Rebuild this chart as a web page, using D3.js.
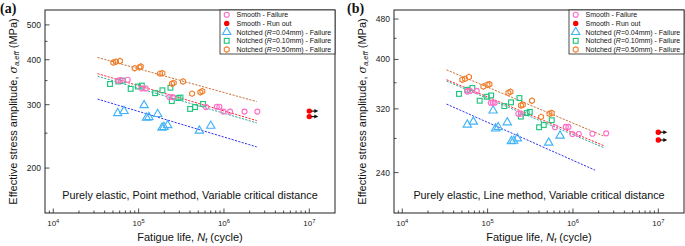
<!DOCTYPE html>
<html>
<head>
<meta charset="utf-8">
<script src="https://cdn.jsdelivr.net/npm/d3@7"></script>
<style>
  body { margin: 0; background: #fff; }
  svg { display: block; font-family: "Liberation Sans", Arial, sans-serif; }
</style>
</head>
<body>
<svg id="chart" width="685" height="246"></svg>
<script>
// Tick values
const xTicks = [1e4, 1e5, 1e6, 1e7];
const yTicksA = [200, 300, 400, 500];
const yMinorA = [250, 350, 450];
const yTicksB = [240, 320, 400, 480];
const yMinorB = [280, 360, 440];

// Panel (a): point method, [cycles, MPa]
const smoothA = [[57800,350],[61600,351],[74500,352],[109000,333],[121000,333],[229000,315],[251000,315],
  [617000,295.5],[824000,296],[884000,296],[985000,287],[1180000,287],[1740000,287],[2460000,287]];
const runoutA = [[1e7,288],[1e7,278]];
const notch004A = [[56900,284],[67400,288],[116000,299],[124000,276],[132000,277],[167000,282.5],
  [188000,259],[198000,260],[219000,263],[515000,254],[700000,262]];
const notch010A = [[46200,342.5],[57800,348],[65000,350],[80700,332],[98300,337],[109000,339],[156000,323],
  [190000,329],[236000,334.5],[245000,307],[292000,313],[309000,314],[401000,292],[459000,295.5],[569000,301.5]];
const notch050A = [[50500,393],[54300,395],[60500,397],[90000,379],[102000,381],[106000,383],[178000,366],
  [190000,367],[246000,343],[258000,345],[331000,348],[423000,322],[529000,325],[558000,327]];
// fit lines: [N start, S start, N end, S end]
const fitsA = [
  {key: "n050", v: [33000, 406, 2420000, 306]},
  {key: "smooth", v: [33000, 366, 2420000, 271]},
  {key: "n010", v: [33000, 360, 2420000, 267]},
  {key: "n004", v: [33000, 311, 2420000, 229]}
];

// Panel (b): line method
const smoothB = [[57800,346],[62100,347],[74500,347],[109000,329],[115000,329],[121000,329],[229000,313],
  [245000,313],[617000,294.5],[824000,295],[884000,295],[985000,285.7],[1170000,285.7],[1690000,286],[2450000,286.5]];
const runoutB = [[1e7,288],[1e7,278]];
const notch004B = [[57800,298],[68000,302],[116000,317.5],[124000,292.8],[133000,294.5],[170000,301],
  [190000,276.5],[202000,277],[223000,280],[520000,274.7],[706000,283.5]];
const notch010B = [[46200,342.4],[57800,348.8],[66200,351.7],[80700,332],[97500,338],[110000,340],[157000,324],
  [188000,329.6],[236000,336],[245000,309],[287000,314],[312000,315.7],[401000,294.5],[455000,297.6],[564000,304]];
const notch050B = [[50500,365],[54300,366.4],[60500,369.7],[89200,354],[99400,356.8],[105000,357.5],[175000,344],
  [185000,345.7],[246000,325],[258000,326],[331000,332],[423000,308.6],[530000,313],[564000,314]];
const fitsB = [
  {key: "n050", v: [33000, 381.6, 2300000, 283]},
  {key: "smooth", v: [33000, 365, 2300000, 271]},
  {key: "n010", v: [33000, 362.7, 2300000, 268.6]},
  {key: "n004", v: [33000, 327, 1820000, 242.6]}
];

const legendItems = [
  {key: "smooth", label: ["Smooth - Failure"]},
  {key: "runout", label: ["Smooth - Run out"]},
  {key: "n004", label: ["Notched (", "R", "=0.04mm) - Failure"]},
  {key: "n010", label: ["Notched (", "R", "=0.10mm) - Failure"]},
  {key: "n050", label: ["Notched (", "R", "=0.50mm) - Failure"]}
];

const markerColor = {smooth: "#ff6ec7", runout: "#ff0000", n004: "#43b3f5", n010: "#1fc57f", n050: "#f07f2c"};
const lineColor = {smooth: "#ff2a2a", n004: "#3535f5", n010: "#3aa7a2", n050: "#c8743a"};

const svg = d3.select("#chart");

function marker(g, key, x, y) {
  const c = markerColor[key];
  if (key === "smooth") {
    g.append("circle").attr("cx", x).attr("cy", y).attr("r", 2.5)
      .attr("fill", "none").attr("stroke", c).attr("stroke-width", 1.15);
  } else if (key === "runout") {
    g.append("circle").attr("cx", x).attr("cy", y).attr("r", 2.7).attr("fill", c);
  } else if (key === "n010") {
    g.append("rect").attr("x", x - 2.4).attr("y", y - 2.4).attr("width", 4.8).attr("height", 4.8)
      .attr("fill", "none").attr("stroke", c).attr("stroke-width", 1.15);
  } else {
    let p;
    if (key === "n004") {
      p = d3.symbol().type(d3.symbolTriangle).size(30)();
    } else {
      const r = 2.8;
      p = d3.range(6).map(i => {
        const a = Math.PI / 3 * i + Math.PI / 6;
        return [r * Math.cos(a), r * Math.sin(a)];
      });
      p = "M" + p.map(q => q.join(",")).join("L") + "Z";
    }
    g.append("path").attr("d", p).attr("transform", `translate(${x},${y})`)
      .attr("fill", "none").attr("stroke", c).attr("stroke-width", 1.15);
  }
}

function drawPanel(opt) {
  const left = opt.left, top = 10, width = 290, height = 203;
  const g = svg.append("g").attr("transform", `translate(${left}, ${top})`);

  const x = d3.scaleLog().domain([8000, 2e7]).range([0, width]);
  const y = d3.scaleLog().domain(opt.yDomain).range([height, 0]);

  // frame
  g.append("rect").attr("width", width).attr("height", height)
    .attr("fill", "none").attr("stroke", "#222").attr("stroke-width", 1);

  // x ticks (inward)
  const xMinor = [];
  [3, 4, 5, 6, 7].forEach(e => d3.range(2, 10).forEach(k => {
    const v = k * Math.pow(10, e);
    if (v > 8000 && v < 2e7) xMinor.push(v);
  }));
  g.selectAll(".xminor").data(xMinor).join("line")
    .attr("x1", d => x(d)).attr("x2", d => x(d)).attr("y1", height).attr("y2", height - 2.5)
    .attr("stroke", "#222").attr("stroke-width", 0.8);
  g.selectAll(".xmajor").data(xTicks).join("line")
    .attr("x1", d => x(d)).attr("x2", d => x(d)).attr("y1", height).attr("y2", height - 4.5)
    .attr("stroke", "#222").attr("stroke-width", 0.8);
  const xl = g.selectAll(".xlab").data(xTicks).join("text")
    .attr("x", d => x(d)).attr("y", height + 13).attr("text-anchor", "middle")
    .attr("font-size", 8).attr("fill", "#222");
  xl.append("tspan").text("10");
  xl.append("tspan").attr("dy", -3.2).attr("font-size", 5.8).text(d => Math.round(Math.log10(d)));

  // y ticks (inward)
  g.selectAll(".yminor").data(opt.yMinor).join("line")
    .attr("x1", 0).attr("x2", 2.5).attr("y1", d => y(d)).attr("y2", d => y(d))
    .attr("stroke", "#222").attr("stroke-width", 0.8);
  g.selectAll(".ymajor").data(opt.yTicks).join("line")
    .attr("x1", 0).attr("x2", 4.5).attr("y1", d => y(d)).attr("y2", d => y(d))
    .attr("stroke", "#222").attr("stroke-width", 0.8);
  g.selectAll(".ylab").data(opt.yTicks).join("text")
    .attr("x", -4).attr("y", d => y(d) + 3).attr("text-anchor", "end")
    .attr("font-size", 8.5).attr("fill", "#222").text(d => d);

  // fit lines
  g.selectAll(".fit").data(opt.fits).join("line")
    .attr("x1", d => x(d.v[0])).attr("y1", d => y(d.v[1]))
    .attr("x2", d => x(d.v[2])).attr("y2", d => y(d.v[3]))
    .attr("stroke", d => lineColor[d.key]).attr("stroke-width", 1)
    .attr("stroke-dasharray", "2.2,1.3");

  // points
  const series = [["n004", opt.n004], ["n010", opt.n010], ["smooth", opt.smooth], ["n050", opt.n050], ["runout", opt.runout]];
  series.forEach(([key, data]) => data.forEach(d => marker(g, key, x(d[0]), y(d[1]))));

  // run-out arrows
  opt.runout.forEach(d => {
    const px = x(d[0]), py = y(d[1]);
    g.append("line").attr("x1", px + 2).attr("x2", px + 6).attr("y1", py).attr("y2", py)
      .attr("stroke", "#111").attr("stroke-width", 1.2);
    g.append("path").attr("d", `M${px + 9},${py}L${px + 5},${py - 2}L${px + 5},${py + 2}Z`).attr("fill", "#111");
  });

  // annotation
  g.append("text").attr("x", width / 2).attr("y", 189).attr("text-anchor", "middle")
    .attr("font-size", 10.8).attr("fill", "#111").text(opt.note);

  // legend
  const lg = g.append("g").attr("transform", `translate(${width - 115}, 0)`);
  lg.append("rect").attr("width", 115).attr("height", 44)
    .attr("fill", "#fff").attr("stroke", "#222").attr("stroke-width", 0.8);
  legendItems.forEach((it, i) => {
    const yy = 4.7 + i * 8.7;
    marker(lg, it.key, 6.7, yy);
    const t = lg.append("text").attr("x", 16.5).attr("y", yy + 2.5)
      .attr("font-size", 7).attr("fill", "#111");
    it.label.forEach((s, j) => t.append("tspan").attr("font-style", j === 1 ? "italic" : null).text(s));
  });

  // axis titles
  const xt = svg.append("text").attr("x", left + width / 2).attr("y", 241).attr("text-anchor", "middle")
    .attr("font-size", 11).attr("fill", "#111");
  xt.append("tspan").text("Fatigue life, ");
  xt.append("tspan").attr("font-style", "italic").text("N");
  xt.append("tspan").attr("font-size", 7.5).attr("dy", 2).text("f");
  xt.append("tspan").attr("dy", -2).text(" (cycle)");

  const yt = svg.append("text")
    .attr("transform", `translate(${opt.ytX}, ${top + height / 2}) rotate(-90)`)
    .attr("text-anchor", "middle").attr("font-size", 11).attr("fill", "#111");
  yt.append("tspan").text("Effective stress amplitude, ");
  yt.append("tspan").attr("font-style", "italic").attr("font-family", "DejaVu Serif, serif").text("σ");
  yt.append("tspan").attr("font-style", "italic").attr("font-size", 7.5).attr("dy", 2).text("a,eff");
  yt.append("tspan").attr("dy", -2).text(" (MPa)");

  // panel label
  svg.append("text").attr("x", opt.labelX).attr("y", 13)
    .attr("font-family", "Liberation Serif, serif").attr("font-weight", "bold")
    .attr("font-size", 14).attr("fill", "#111").text(opt.label);
}

drawPanel({left: 45, yDomain: [150, 550], yTicks: yTicksA, yMinor: yMinorA,
  smooth: smoothA, runout: runoutA, n004: notch004A, n010: notch010A, n050: notch050A, fits: fitsA,
  note: "Purely elastic, Point method, Variable critical distance", ytX: 17, labelX: 0, label: "(a)"});
drawPanel({left: 394, yDomain: [200, 500], yTicks: yTicksB, yMinor: yMinorB,
  smooth: smoothB, runout: runoutB, n004: notch004B, n010: notch010B, n050: notch050B, fits: fitsB,
  note: "Purely elastic, Line method, Variable critical distance", ytX: 366, labelX: 347, label: "(b)"});
</script>
</body>
</html>
